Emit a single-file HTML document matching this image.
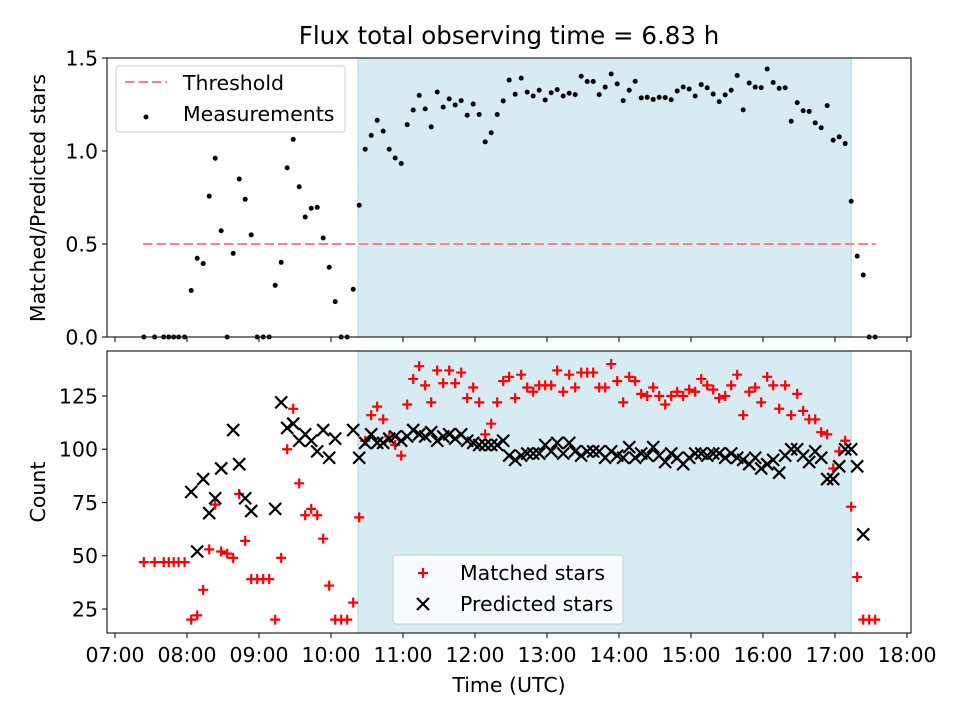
<!DOCTYPE html>
<html><head><meta charset="utf-8"><style>
body{margin:0;background:#fff}
svg{display:block;font-family:"DejaVu Sans","Liberation Sans",sans-serif}
</style></head><body>
<svg id="chart" width="960" height="720" viewBox="0 0 960 720">
<rect width="960" height="720" fill="#fff"/>
<g id="topPanel"></g>
<g id="botPanel"></g>
<text x="509" y="44" font-size="24.5" text-anchor="middle">Flux total observing time = 6.83 h</text>
<text transform="translate(45,198) rotate(-90)" font-size="20.5" text-anchor="middle">Matched/Predicted stars</text>
<text transform="translate(45,492) rotate(-90)" font-size="20.5" text-anchor="middle">Count</text>
<text x="509" y="692" font-size="20.5" text-anchor="middle">Time (UTC)</text>
</svg>
<script>
// minutes since 07:00 UTC
const times=[24,33,40.6,44.8,48.9,53,58,
63.5,68.5,73.5,78.5,83.5,88.5,93.5,98.5,103.5,108.5,113.5,118.5,123.5,128.5,133.5,138.5,143.5,148.5,153.5,158.5,163.5,168.5,173.5,178.5,183.5,188.5,193.5,198.5,203.5,
208.5,213.5,218.5,223.5,228.5,233.5,238.5,243.5,248.5,253.5,258.5,263.5,268.5,273.5,278.5,283.5,288.5,293.5,298.5,303.5,308.5,313.5,318.5,323.5,328.5,333.5,338.5,343.5,348.5,353.5,358.5,363.5,368.5,373.5,378.5,383.5,388.5,393.5,398.5,403.5,408.5,413.5,418.5,423.5,428.5,433.5,438.5,443.5,448.5,453.5,458.5,463.5,468.5,473.5,478.5,483.5,488.5,493.5,498.5,503.5,508.5,513.5,518.5,523.5,528.5,533.5,538.5,543.5,548.5,553.5,558.5,563.5,568.5,573.5,578.5,583.5,588.5,593.5,598.5,603.5,608.5,613.5,618.5,623.5,628.5,633.5];
const matched=[47,47,47,47,47,47,47,
20,22,34,53,74,52,51,49,79,57,39,39,39,39,20,49,100,119,84,69,72,69,58,36,20,20,20,28,68,
104,116,120,114,106,102,97,121,133,139,130,122,137,131,137,131,136,124,129,122,107,112,122,132,134,124,135,129,127,130,130,130,137,127,135,129,136,136,136,129,129,140,132,122,134,132,126,125,129,125,121,125,127,125,128,127,133,130,128,124,125,130,135,116,127,129,122,134,130,119,130,116,126,118,114,114,108,107,91,99,104,73,40,20,20,20];
const predicted=[null,null,null,null,null,null,null,
80,52,86,70,77,91,null,109,93,77,71,null,null,null,72,122,110,112,104,107,104,99,109,96,105,null,null,109,96,
103,107,103,103,105,106,104,106,109,107,106,108,104,106,107,105,107,104,103,102,102,102,102,104,97,95,97,98,98,98,102,99,103,98,103,99,97,99,99,99,96,99,97,96,101,96,98,97,101,97,94,98,96,93,96,98,98,97,98,98,96,98,96,95,93,96,91,93,95,89,97,100,100,97,94,99,96,86,86,92,100,100,92,60,null,null];
const hourTicks=["07:00","08:00","09:00","10:00","11:00","12:00","13:00","14:00","15:00","16:00","17:00","18:00"];
const ratioTicks=[0,0.5,1.0,1.5];
const countTicks=[25,50,75,100,125];
const threshold=0.5, thrStart=23.3, thrEnd=634;
const obsStart=202.5, obsEnd=613.5;

const NS="http://www.w3.org/2000/svg";
const L=107,R=911;
const FS=20.5;
const X=t=>115+t*1.2;
const YT=v=>337-v*186;
const YB=v=>609-(v-25)*2.13;
function el(tag,attrs,parent){const e=document.createElementNS(NS,tag);for(const k in attrs)e.setAttribute(k,attrs[k]);parent.appendChild(e);return e;}
const topG=document.getElementById('topPanel'),botG=document.getElementById('botPanel');

function panel(g,y0,y1,Y,ticks,fmt,labelsX,name){
  let s=el('rect',{x:X(obsStart),y:y0,width:X(obsEnd)-X(obsStart),height:y1-y0,fill:'#add8e6','fill-opacity':0.5,stroke:'#add8e6','stroke-width':1},g);
  
  
  ticks.forEach(v=>{
    const y=Y(v);
    let t=el('line',{x1:L-5,x2:L,y1:y,y2:y,stroke:'#222','stroke-width':1.2},g);
    
    
    let tx=el('text',{x:L-9,y:y+7.3,'font-size':FS,'text-anchor':'end'},g);tx.textContent=fmt(v);
    
    
  });
  hourTicks.forEach((h,i)=>{
    const x=X(i*60);
    let t=el('line',{x1:x,x2:x,y1:y1,y2:y1+5,stroke:'#222','stroke-width':1.2},g);
    
    
    if(labelsX){let tx=el('text',{x:x,y:y1+29,'font-size':FS,'text-anchor':'middle'},g);tx.textContent=h;
      
      }
  });
}
panel(topG,58,337,YT,ratioTicks,v=>v.toFixed(1),false,'ratio');
panel(botG,351,633,YB,countTicks,v=>String(v),true,'count');

let th=el('line',{x1:X(thrStart),x2:X(thrEnd),y1:YT(threshold),y2:YT(threshold),stroke:'#ff8080','stroke-width':2,'stroke-dasharray':'9.5,4'},topG);



times.forEach((t,i)=>{
  const p=predicted[i];const r=p?matched[i]/p:0;
  let c=el('circle',{cx:X(t),cy:YT(r),r:2.5,fill:'#000'},topG);
  
  
});
times.forEach((t,i)=>{
  const x=X(t),y=YB(matched[i]);
  let pl=el('path',{d:`M${x-5},${y}H${x+5}M${x},${y-5}V${y+5}`,stroke:'#f00','stroke-width':2.2,fill:'none'},botG);
  
  
  if(predicted[i]!=null){
    const yp=YB(predicted[i]);
    let xm=el('path',{d:`M${x-6},${yp-6}L${x+6},${yp+6}M${x-6},${yp+6}L${x+6},${yp-6}`,stroke:'#000','stroke-width':2.2,fill:'none'},botG);
    
    
  }
});
[[topG,58,337],[botG,351,633]].forEach(([g,a,b])=>{
  let f=el('rect',{x:L,y:a,width:R-L,height:b-a,fill:'none',stroke:'#222','stroke-width':1.2},g);
  
  
});
const lg=el('g',{},topG);


el('rect',{x:116,y:66,width:229,height:66,rx:3,fill:'#fff','fill-opacity':0.85,stroke:'#ccc'},lg);
el('line',{x1:125,x2:167,y1:82,y2:82,stroke:'#ff8080','stroke-width':2,'stroke-dasharray':'9.5,4'},lg);
let t1=el('text',{x:183,y:90,'font-size':FS},lg);t1.textContent='Threshold';


el('circle',{cx:146,cy:117,r:2.5,fill:'#000'},lg);
let t2=el('text',{x:183,y:121,'font-size':FS},lg);t2.textContent='Measurements';


const lb=el('g',{},botG);


el('rect',{x:393,y:555,width:230,height:69,rx:3,fill:'#fff','fill-opacity':0.8,stroke:'#ccc'},lb);
el('path',{d:'M418,573H428M423,568V578',stroke:'#f00','stroke-width':2.2},lb);
let t3=el('text',{x:460,y:580,'font-size':FS},lb);t3.textContent='Matched stars';


el('path',{d:'M417,598L429,610M417,610L429,598',stroke:'#000','stroke-width':2.2},lb);
let t4=el('text',{x:460,y:611,'font-size':FS},lb);t4.textContent='Predicted stars';


</script>
</body></html>
